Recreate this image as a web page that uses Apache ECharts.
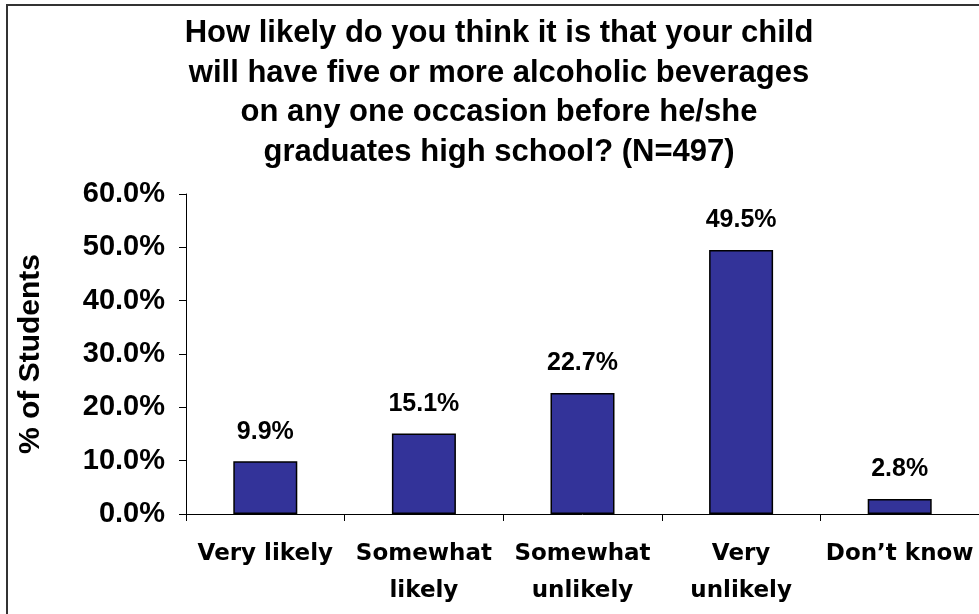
<!DOCTYPE html>
<html>
<head>
<meta charset="utf-8">
<script src="https://cdn.jsdelivr.net/npm/echarts@6/dist/echarts.min.js"></script>
<style>
  html, body { margin: 0; padding: 0; background: #fff; }
  #chart { width: 979px; height: 614px; }
</style>
</head>
<body>
<div id="chart"></div>
<script>
const titleText = "How likely do you think it is that your child\nwill have five or more alcoholic beverages\non any one occasion before he/she\ngraduates high school? (N=497)";
const categories = ["Very likely", "Somewhat\nlikely", "Somewhat\nunlikely", "Very\nunlikely", "Don\u2019t know"];
const values = [9.9, 15.1, 22.7, 49.5, 2.8];
const yTicks = { min: 0, max: 60, interval: 10 };
const yAxisName = "% of Students";

const chart = echarts.init(document.getElementById('chart'), null, { renderer: 'canvas' });
chart.setOption({
  backgroundColor: '#ffffff',
  animation: false,
  title: {
    text: titleText,
    left: 499,
    textAlign: 'center',
    top: 14,
    padding: 0,
    textStyle: {
      fontFamily: 'Liberation Sans',
      fontWeight: 'bold',
      fontSize: 31,
      lineHeight: 39.5,
      color: '#000'
    }
  },
  graphic: [{
    type: 'rect',
    shape: { x: 7, y: 5, width: 1000, height: 700 },
    style: { fill: 'none', stroke: '#333', lineWidth: 2 },
    silent: true,
    z: 100
  }],
  grid: { left: 186, top: 194, bottom: 100, right: -12, containLabel: false },
  xAxis: {
    type: 'category',
    data: categories,
    axisLine: { show: true, lineStyle: { color: '#000', width: 1 } },
    axisTick: { show: true, length: 7, alignWithLabel: false, lineStyle: { color: '#000' } },
    axisLabel: {
      interval: 0,
      margin: 22,
      fontFamily: 'DejaVu Sans',
      fontWeight: 'bold',
      fontSize: 23,
      lineHeight: 37,
      color: '#000'
    },
    splitLine: { show: false }
  },
  yAxis: {
    type: 'value',
    min: yTicks.min,
    max: yTicks.max,
    interval: yTicks.interval,
    name: yAxisName,
    nameLocation: 'middle',
    nameRotate: 90,
    nameGap: 140,
    nameTextStyle: {
      fontFamily: 'Liberation Sans',
      fontWeight: 'bold',
      fontSize: 30,
      color: '#000'
    },
    axisLine: { show: true, lineStyle: { color: '#000', width: 1 } },
    axisTick: { show: true, length: 7, lineStyle: { color: '#000' } },
    axisLabel: {
      margin: 21,
      formatter: v => v.toFixed(1) + '%',
      fontFamily: 'Liberation Sans',
      fontWeight: 'bold',
      fontSize: 29,
      color: '#000'
    },
    splitLine: { show: false }
  },
  series: [{
    type: 'bar',
    data: values,
    barWidth: 64,
    itemStyle: { color: '#333399', borderColor: '#000', borderWidth: 1.5 },
    label: {
      show: true,
      position: 'top',
      distance: 17,
      formatter: p => p.value.toFixed(1) + '%',
      fontFamily: 'Liberation Sans',
      fontWeight: 'bold',
      fontSize: 25,
      color: '#000'
    }
  }]
});
</script>
</body>
</html>
